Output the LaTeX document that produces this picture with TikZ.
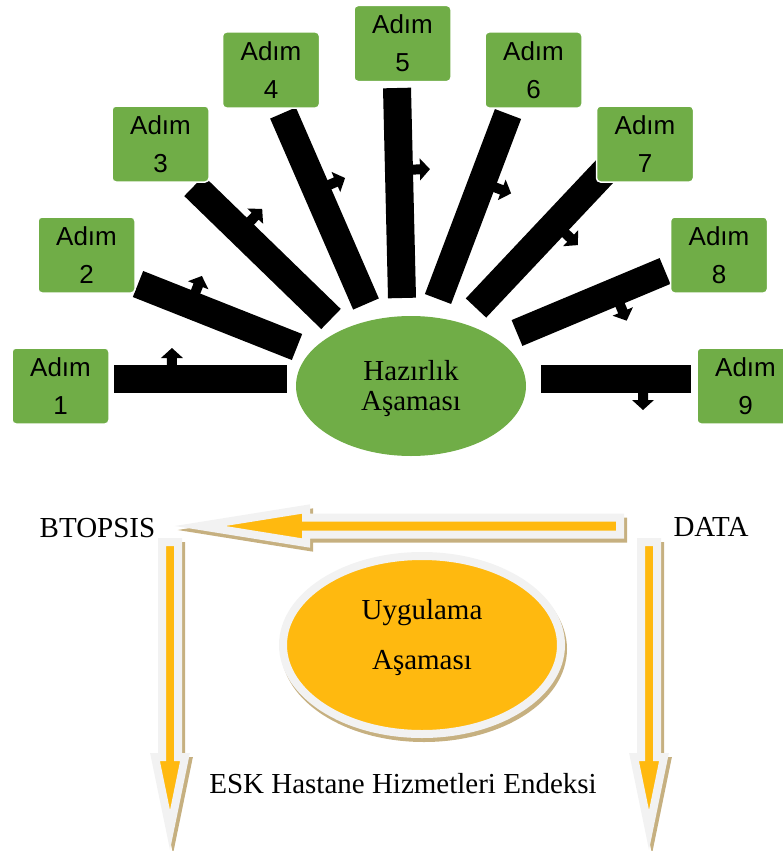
\documentclass[tikz,border=0pt]{standalone}
\usepackage{fontspec}
\setmainfont{Liberation Serif}
\newfontfamily\boxfont{Liberation Sans}
\usetikzlibrary{calc,shapes.geometric}
\definecolor{stepgreen}{HTML}{70AD47}
\definecolor{goldfill}{HTML}{FFB90F}
\definecolor{paleg}{HTML}{F2F2F2}
\definecolor{tanshadow}{HTML}{C6B080}
\tikzset{
  stepbox/.style={draw=white, line width=1.5pt, fill=stepgreen, rounded corners=4pt,
    minimum width=97pt, minimum height=76pt, inner sep=0pt, align=center,
    font=\boxfont\fontsize{26}{38}\selectfont},
  spoke/.style={line width=28pt, black},
  serifbig/.style={inner sep=0pt, font=\fontsize{29}{30}\selectfont},
  blockshadow/.style={draw=tanshadow, fill=tanshadow, line width=8pt},
  blockmain/.style={draw=paleg, fill=goldfill, line width=8pt},
}
\newcommand\spokebar[3]{%
  \draw[spoke] (#1) -- (#2);
  \pgfmathanglebetweenpoints{\pgfpointanchor{#1}{center}}{\pgfpointanchor{#2}{center}}%
  \let\spang\pgfmathresult
  \begin{scope}[shift={($(#1)!#3!(#2)$)}, rotate=\spang]
    \fill (-5,12) -- (-5,21) -- (-11,21) -- (0,31) -- (11,21) -- (5,21) -- (5,12) -- cycle;
  \end{scope}
}
\newcommand\blockarrow[1]{%
  \draw[blockshadow, shift={(3,-4)}] #1;
  \draw[blockmain] #1;
}
\begin{document}
\begin{tikzpicture}[x=1pt,y=1pt]
\useasboundingbox (0,0) rectangle (783,-851);
% spokes
\coordinate (o1) at (114,-379); \coordinate (i1) at (287,-379);
\coordinate (o2) at (138,-284); \coordinate (i2) at (297,-347);
\coordinate (o3) at (194,-186); \coordinate (i3) at (331,-319);
\coordinate (o4) at (283,-113); \coordinate (i4) at (366,-304);
\coordinate (o5) at (397,-88);  \coordinate (i5) at (402,-298);
\coordinate (o6) at (508,-114); \coordinate (i6) at (438,-299);
\coordinate (o7) at (606,-170); \coordinate (i7) at (476,-308);
\coordinate (o8) at (665,-271); \coordinate (i8) at (517,-333);
\coordinate (o9) at (691,-379); \coordinate (i9) at (541,-379);
\spokebar{o1}{i1}{0.335}
\spokebar{o2}{i2}{0.33}
\spokebar{o3}{i3}{0.34}
\spokebar{o4}{i4}{0.405}
\spokebar{o5}{i5}{0.39}
\spokebar{o6}{i6}{0.37}
\spokebar{o7}{i7}{0.39}
\spokebar{o8}{i8}{0.34}
\spokebar{o9}{i9}{0.32}
% step boxes
\node[stepbox] (s1) at (60.5,-386) {Adım\\1};
\node[stepbox] (s2) at (86.5,-255) {Adım\\2};
\node[stepbox] (s3) at (160.5,-144) {Adım\\3};
\node[stepbox] (s4) at (271,-70) {Adım\\4};
\node[stepbox] (s5) at (402.5,-43.5) {Adım\\5};
\node[stepbox] (s6) at (533.5,-70) {Adım\\6};
\node[stepbox] (s7) at (645,-144) {Adım\\7};
\node[stepbox] (s8) at (719,-255) {Adım\\8};
\node[stepbox] (s9) at (745.5,-386) {Adım\\9};
% central ellipse
\node[ellipse, fill=stepgreen, minimum width=230pt, minimum height=140pt, inner sep=0pt] (hz) at (411,-386) {};
\node[serifbig, align=center] (hzt) at (411,-389) {Hazırlık\\Aşaması};
% lower part
\blockarrow{(200,-526) -- (306,-509) -- (306,-517.5) -- (620,-517.5) -- (620,-534.5) -- (306,-534.5) -- (306,-543) -- cycle}
\blockarrow{(162,-542) -- (178,-542) -- (178,-757) -- (185,-757) -- (170,-830) -- (155,-757) -- (162,-757) -- cycle}
\blockarrow{(641,-542) -- (657,-542) -- (657,-757) -- (664,-757) -- (649,-830) -- (634,-757) -- (641,-757) -- cycle}
\node[ellipse, blockshadow, minimum width=278pt, minimum height=178pt, inner sep=0pt] (uash) at (424,-649) {};
\node[ellipse, blockmain, minimum width=278pt, minimum height=178pt, inner sep=0pt] (ua) at (422,-645) {};
\node[inner sep=0pt, align=center, font=\fontsize{29}{50}\selectfont] (uat) at (422,-638) {Uygulama\\Aşaması};
\node[serifbig, anchor=base] (bt) at (97.5,-537) {BTOPSIS};
\node[serifbig, anchor=base] (dt) at (711,-536) {DATA};
\node[serifbig, anchor=base] (esk) at (403,-793) {ESK Hastane Hizmetleri Endeksi};
\end{tikzpicture}
\end{document}
